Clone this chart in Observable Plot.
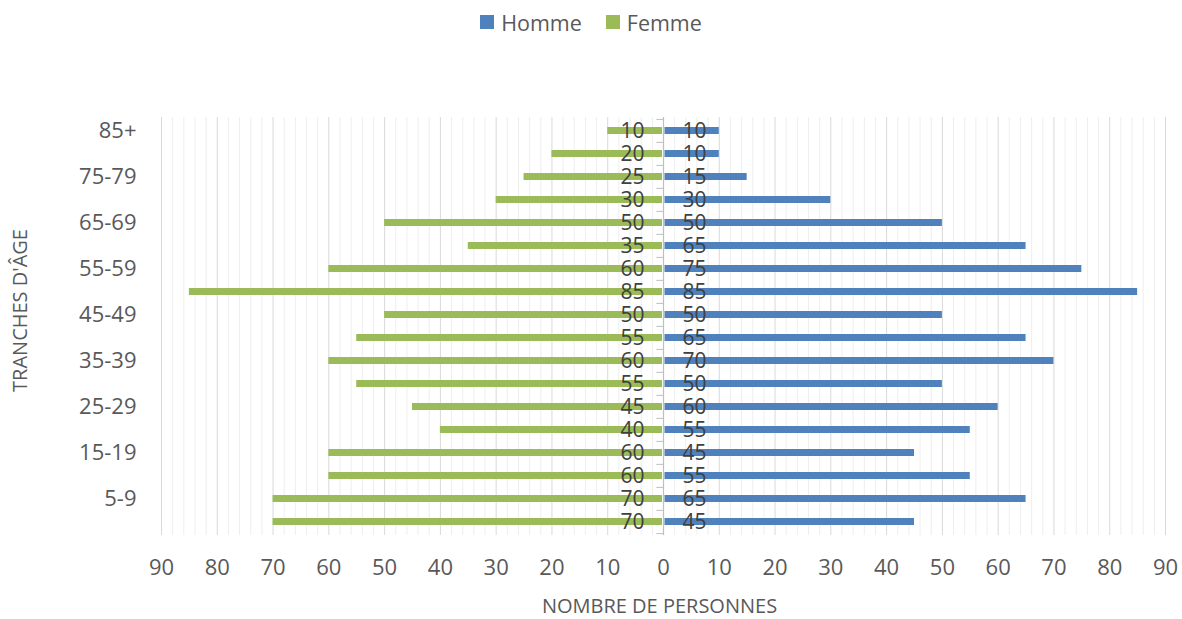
<!DOCTYPE html>
<html>
<head>
<meta charset="utf-8">
<script src="https://cdn.jsdelivr.net/npm/d3@7"></script>
<script src="https://cdn.jsdelivr.net/npm/@observablehq/plot@0.6"></script>
<style>
  body { margin: 0; background: #fff; font-family: "Open Sans", sans-serif; }
  #legend { height: 44px; display: flex; justify-content: center; align-items: center; gap: 24px; font-size: 21.5px; color: #595959; }
  .item { display: flex; align-items: center; gap: 7px; }
  .sw { width: 14px; height: 14px; display: inline-block; }
  svg { display: block; }
</style>
</head>
<body>
<div id="legend"></div>
<div id="chart"></div>
<script>
const ages = ["0-4","5-9","10-14","15-19","20-24","25-29","30-34","35-39","40-44","45-49","50-54","55-59","60-64","65-69","70-74","75-79","80-84","85+"];
const homme = [45,65,55,45,55,60,50,70,65,50,85,75,65,50,30,15,10,10];
const femme = [70,70,60,60,40,45,55,60,55,50,85,60,35,50,30,25,20,10];
const seriesNames = ["Homme","Femme"];
const seriesColors = ["#4f81bd","#9bbb59"];
const xTicks = d3.range(-90, 91, 10);
const gridVals = d3.range(-90, 91, 2);

const data = ages.map((a, i) => ({age: a, homme: homme[i], femme: femme[i]}));

const legend = document.getElementById("legend");
seriesNames.forEach((n, i) => {
  const it = document.createElement("div");
  it.className = "item";
  it.innerHTML = `<span class="sw" style="background:${seriesColors[i]}"></span><span>${n}</span>`;
  legend.appendChild(it);
});

const H = 575, mt = 73, mb = 84;
const step = (H - mt - mb) / ages.length;

const chart = Plot.plot({
  width: 1182,
  height: H,
  marginLeft: 161,
  marginRight: 17,
  marginTop: mt,
  marginBottom: mb,
  style: {fontFamily: "Open Sans, sans-serif", color: "#595959", background: "#fff"},
  x: {domain: [-90, 90], axis: null},
  y: {type: "band", domain: ages.slice().reverse(), paddingInner: 0.7, paddingOuter: 0.35, axis: null},
  marks: [
    Plot.ruleX(gridVals, {x: d => d, stroke: d => (d % 10 === 0 ? "#d9d9d9" : "#eeeeee"), strokeWidth: 1}),
    Plot.ruleX([0], {stroke: "#bfbfbf", strokeWidth: 1.2}),
    Plot.ruleY(ages, {y: d => d, x1: -1.2, x2: 0, dy: -step / 2, stroke: "#bfbfbf"}),
    Plot.ruleY([ages[0]], {y: d => d, x1: -1.2, x2: 0, dy: step / 2, stroke: "#bfbfbf"}),
    Plot.barX(data, {y: "age", x1: () => 0, x2: d => -d.femme, fill: seriesColors[1], insetRight: 1}),
    Plot.barX(data, {y: "age", x1: () => 0, x2: d => d.homme, fill: seriesColors[0], insetLeft: 1.5}),
    Plot.text(data, {y: "age", x: () => 0, text: d => String(d.femme), dx: -19, textAnchor: "end", fontSize: 21, fill: "#404040"}),
    Plot.text(data, {y: "age", x: () => 0, text: d => String(d.homme), dx: 19, textAnchor: "start", fontSize: 21, fill: "#404040"}),
    Plot.axisY(ages.filter((d, i) => i % 2 === 1), {tickSize: 0, tickPadding: 25, fontSize: 22, fill: "#595959", label: null}),
    Plot.axisX(xTicks, {tickSize: 0, tickPadding: 24, tickFormat: d => String(Math.abs(d)), fontSize: 22, fill: "#595959", label: null}),
    Plot.text(["TRANCHES D'ÂGE"], {frameAnchor: "left", textAnchor: "middle", dx: -141, dy: -16, rotate: -90, fontSize: 20, fill: "#595959"}),
    Plot.text(["NOMBRE DE PERSONNES"], {frameAnchor: "bottom", dy: 77, dx: -4, fontSize: 20, fill: "#595959"})
  ]
});
document.getElementById("chart").appendChild(chart);
</script>
</body>
</html>
